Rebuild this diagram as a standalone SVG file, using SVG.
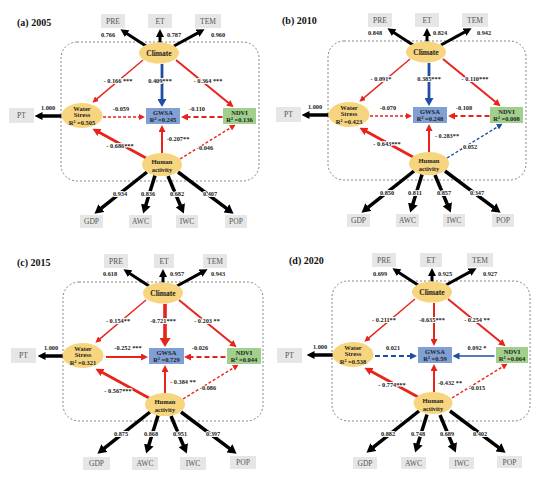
<svg xmlns="http://www.w3.org/2000/svg" width="554" height="482" viewBox="0 0 554 482">
<style>
text{font-family:"Liberation Serif","Times New Roman",serif;text-anchor:middle}
.ttl{font-size:10px;font-weight:bold;text-anchor:start;fill:#111}
.nt{font-size:7.5px;font-weight:bold;fill:#222}
.ns{font-size:6.5px;font-weight:bold;fill:#222}
.bt{font-size:7.5px;fill:#555}
.el{font-size:6.3px;font-weight:bold;fill:#222;stroke:#fff;stroke-width:2.2px;paint-order:stroke;stroke-linejoin:round}
.frame{fill:none;stroke:#666;stroke-width:0.8;stroke-dasharray:2 2}
.yel{fill:#f6d57e}
.gb{fill:#e6e6e6}
.gw{fill:#7f9fd5}
.nd{fill:#a1d08c}
line{fill:none}
.bk{stroke:#000;stroke-width:3}
.bw{stroke-width:3.5}
.r{stroke:#e8231c}
.u{stroke:#1f4ea5}
.w1{stroke-width:1.4}
.w2{stroke-width:2}
.w3{stroke-width:2.8}
.w4{stroke-width:3.6}
.d1{stroke-dasharray:3 2}
.d2{stroke-dasharray:5 3}
</style>
<defs>
<marker id="mb" markerUnits="userSpaceOnUse" viewBox="0 0 8 8" markerWidth="8" markerHeight="8" refX="0.5" refY="4" orient="auto"><path d="M0,0L8,4L0,8z" fill="#000"/></marker>
<marker id="mbL" markerUnits="userSpaceOnUse" viewBox="0 0 9 10" markerWidth="9" markerHeight="10" refX="0.5" refY="5" orient="auto"><path d="M0,0L9,5L0,10z" fill="#000"/></marker>
<marker id="mr6" markerUnits="userSpaceOnUse" viewBox="0 0 6 6" markerWidth="6" markerHeight="6" refX="0.5" refY="3" orient="auto"><path d="M0,0L6,3L0,6z" fill="#e8231c"/></marker>
<marker id="mr7" markerUnits="userSpaceOnUse" viewBox="0 0 7 7" markerWidth="7" markerHeight="7" refX="0.5" refY="3.5" orient="auto"><path d="M0,0L7,3.5L0,7z" fill="#e8231c"/></marker>
<marker id="mr8" markerUnits="userSpaceOnUse" viewBox="0 0 8 8" markerWidth="8" markerHeight="8" refX="0.5" refY="4" orient="auto"><path d="M0,0L8,4L0,8z" fill="#e8231c"/></marker>
<marker id="mr9" markerUnits="userSpaceOnUse" viewBox="0 0 9 11" markerWidth="9" markerHeight="11" refX="0.5" refY="5.5" orient="auto"><path d="M0,0L9,5.5L0,11z" fill="#e8231c"/></marker>
<marker id="mu6" markerUnits="userSpaceOnUse" viewBox="0 0 6 6" markerWidth="6" markerHeight="6" refX="0.5" refY="3" orient="auto"><path d="M0,0L6,3L0,6z" fill="#1f4ea5"/></marker>
<marker id="mu7" markerUnits="userSpaceOnUse" viewBox="0 0 7 7" markerWidth="7" markerHeight="7" refX="0.5" refY="3.5" orient="auto"><path d="M0,0L7,3.5L0,7z" fill="#1f4ea5"/></marker>
<marker id="mu8" markerUnits="userSpaceOnUse" viewBox="0 0 8 9" markerWidth="8" markerHeight="9" refX="0.5" refY="4.5" orient="auto"><path d="M0,0L8,4.5L0,9z" fill="#1f4ea5"/></marker>
</defs>
<rect width="554" height="482" fill="#fff"/>

<text class="ttl" x="17" y="26">(a) 2005</text>
<text class="ttl" x="282" y="24">(b) 2010</text>
<text class="ttl" x="17" y="266">(c) 2015</text>
<text class="ttl" x="289" y="264">(d) 2020</text>

<!-- Panel a -->
<g id="panel-a">
<rect class="frame" x="61" y="42" width="198" height="139" rx="16"/>
<g id="a-connectors">
<line class="bk" x1="146" y1="46" x2="126.7" y2="33.4" marker-end="url(#mb)"/>
<line class="bk" x1="160" y1="42.5" x2="160" y2="36.5" marker-end="url(#mb)"/>
<line class="bk" x1="174" y1="46" x2="198" y2="32.9" marker-end="url(#mb)"/>
<line class="bk bw" x1="61.5" y1="116" x2="42" y2="116" marker-end="url(#mb)"/>
<line class="bk bw" x1="147" y1="172" x2="101.1" y2="208.4" marker-end="url(#mbL)"/>
<line class="bk bw" x1="155" y1="175.5" x2="145.7" y2="205.4" marker-end="url(#mbL)"/>
<line class="bk bw" x1="168" y1="176" x2="180.5" y2="205.7" marker-end="url(#mbL)"/>
<line class="bk bw" x1="178" y1="172" x2="226.8" y2="208.6" marker-end="url(#mbL)"/>
<line class="r w1" x1="143" y1="60" x2="96.6" y2="99.1" marker-end="url(#mr6)"/>
<line class="u w3" x1="162" y1="64" x2="162" y2="99.5" marker-end="url(#mu8)"/>
<line class="r w2" x1="176" y1="60" x2="228.6" y2="103.1" marker-end="url(#mr7)"/>
<line class="r w1 d1" x1="103" y1="117" x2="139.5" y2="117" marker-end="url(#mr6)"/>
<line class="r w2 d2" x1="222.5" y1="117" x2="187.5" y2="117" marker-end="url(#mr7)"/>
<line class="r w3" x1="146" y1="158" x2="99" y2="132.3" marker-end="url(#mr8)"/>
<line class="r w2" x1="162" y1="153" x2="162" y2="131.5" marker-end="url(#mr7)"/>
<line class="r w1 d1" x1="180" y1="159" x2="230.9" y2="127.6" marker-end="url(#mr6)"/>
</g>
<g id="a-labels">
<text class="el" x="108" y="37">0.766</text><text class="el" x="174" y="37">0.787</text><text class="el" x="218" y="37">0.960</text>
<text class="el" x="118" y="82.5">- 0.166 ***</text><text class="el" x="160" y="82.5">0.409***</text><text class="el" x="208" y="82.5">- 0.364 ***</text>
<text class="el" x="121" y="110.5">-0.059</text><text class="el" x="197" y="110.5">-0.110</text>
<text class="el" x="48" y="110">1.000</text>
<text class="el" x="120" y="147.5">- 0.686***</text><text class="el" x="178" y="140.5">-0.207**</text><text class="el" x="205" y="149.5">-0.046</text>
<text class="el" x="120" y="196">0.934</text><text class="el" x="148" y="196">0.836</text><text class="el" x="177" y="196">0.682</text><text class="el" x="210" y="196">0.407</text>
</g>
<g id="a-pre"><rect class="gb" x="101" y="14" width="24" height="14"/><text class="bt" x="113" y="23.7">PRE</text></g>
<g id="a-et"><rect class="gb" x="148" y="14" width="24" height="14"/><text class="bt" x="160" y="23.7">ET</text></g>
<g id="a-tem"><rect class="gb" x="195" y="14" width="26" height="14"/><text class="bt" x="208" y="23.7">TEM</text></g>
<g id="a-climate"><ellipse class="yel" cx="159" cy="53" rx="20" ry="10.5"/><text class="nt" x="159" y="56">Climate</text></g>
<g id="a-pt"><rect class="gb" x="9" y="108" width="25" height="15"/><text class="bt" x="21.5" y="118.3">PT</text></g>
<g id="a-water"><ellipse class="yel" cx="82" cy="115.5" rx="20.5" ry="12.5"/><text class="ns" x="82" y="110.5">Water</text><text class="ns" x="82" y="117">Stress</text><text class="ns" x="82" y="124.5">R² =0.505</text></g>
<g id="a-gwsa"><rect class="gw" x="146" y="108" width="34" height="16"/><text class="ns" x="163" y="114.5">GWSA</text><text class="ns" x="163" y="121.7">R² =0.245</text></g>
<g id="a-ndvi"><rect class="nd" x="223" y="108" width="33" height="16"/><text class="ns" x="239.5" y="114.5">NDVI</text><text class="ns" x="239.5" y="121.7">R² =0.136</text></g>
<g id="a-human"><ellipse class="yel" cx="162" cy="164.5" rx="20" ry="11.5"/><text class="ns" x="162" y="164">Human</text><text class="ns" x="162" y="172">activity</text></g>
<g id="a-gdp"><rect class="gb" x="80" y="215" width="23" height="13"/><text class="bt" x="91.5" y="224.2">GDP</text></g>
<g id="a-awc"><rect class="gb" x="129" y="215" width="23" height="13"/><text class="bt" x="140.5" y="224.2">AWC</text></g>
<g id="a-iwc"><rect class="gb" x="176" y="215" width="22" height="13"/><text class="bt" x="187" y="224.2">IWC</text></g>
<g id="a-pop"><rect class="gb" x="225" y="215" width="22" height="13"/><text class="bt" x="236" y="224.2">POP</text></g>
</g>

<!-- Panel b -->
<g id="panel-b" transform="translate(267,-1)">
<rect class="frame" x="61" y="42" width="198" height="139" rx="16"/>
<g id="b-connectors">
<line class="bk" x1="146" y1="46" x2="126.7" y2="33.4" marker-end="url(#mb)"/>
<line class="bk" x1="160" y1="42.5" x2="160" y2="36.5" marker-end="url(#mb)"/>
<line class="bk" x1="174" y1="46" x2="198" y2="32.9" marker-end="url(#mb)"/>
<line class="bk bw" x1="61.5" y1="116" x2="42" y2="116" marker-end="url(#mb)"/>
<line class="bk bw" x1="147" y1="172" x2="101.1" y2="208.4" marker-end="url(#mbL)"/>
<line class="bk bw" x1="155" y1="175.5" x2="145.7" y2="205.4" marker-end="url(#mbL)"/>
<line class="bk bw" x1="168" y1="176" x2="180.5" y2="205.7" marker-end="url(#mbL)"/>
<line class="bk bw" x1="178" y1="172" x2="226.8" y2="208.6" marker-end="url(#mbL)"/>
<line class="r w1" x1="143" y1="60" x2="96.6" y2="99.1" marker-end="url(#mr6)"/>
<line class="u w3" x1="162" y1="64" x2="162" y2="99.5" marker-end="url(#mu8)"/>
<line class="r w2" x1="176" y1="60" x2="228.6" y2="103.1" marker-end="url(#mr7)"/>
<line class="r w1 d1" x1="103" y1="117" x2="139.5" y2="117" marker-end="url(#mr6)"/>
<line class="r w2 d2" x1="222.5" y1="117" x2="187.5" y2="117" marker-end="url(#mr7)"/>
<line class="r w3" x1="146" y1="158" x2="99" y2="132.3" marker-end="url(#mr8)"/>
<line class="r w2" x1="162" y1="153" x2="162" y2="131.5" marker-end="url(#mr7)"/>
<line class="u w1 d1" x1="180" y1="159" x2="230.9" y2="127.6" marker-end="url(#mu6)"/>
</g>
<g id="b-labels">
<text class="el" x="108" y="36">0.848</text><text class="el" x="173" y="36">0.824</text><text class="el" x="217" y="36">0.942</text>
<text class="el" x="114" y="82">- 0.091*</text><text class="el" x="162" y="82">0.385***</text><text class="el" x="208" y="82">- 0.110***</text>
<text class="el" x="121" y="110.5">-0.070</text><text class="el" x="197" y="110.5">-0.108</text>
<text class="el" x="48" y="110">1.000</text>
<text class="el" x="120" y="146.5">- 0.643***</text><text class="el" x="180" y="139">- 0.283**</text><text class="el" x="203" y="149.5">0.052</text>
<text class="el" x="120" y="196">0.850</text><text class="el" x="148" y="196">0.811</text><text class="el" x="177" y="196">0.857</text><text class="el" x="210" y="196">0.347</text>
</g>
<g id="b-pre"><rect class="gb" x="101" y="14" width="24" height="14"/><text class="bt" x="113" y="23.7">PRE</text></g>
<g id="b-et"><rect class="gb" x="148" y="14" width="24" height="14"/><text class="bt" x="160" y="23.7">ET</text></g>
<g id="b-tem"><rect class="gb" x="195" y="14" width="26" height="14"/><text class="bt" x="208" y="23.7">TEM</text></g>
<g id="b-climate"><ellipse class="yel" cx="159" cy="53" rx="20" ry="10.5"/><text class="nt" x="159" y="56">Climate</text></g>
<g id="b-pt"><rect class="gb" x="9" y="108" width="25" height="15"/><text class="bt" x="21.5" y="118.3">PT</text></g>
<g id="b-water"><ellipse class="yel" cx="82" cy="115.5" rx="20.5" ry="12.5"/><text class="ns" x="82" y="110.5">Water</text><text class="ns" x="82" y="117">Stress</text><text class="ns" x="82" y="124.5">R² =0.423</text></g>
<g id="b-gwsa"><rect class="gw" x="146" y="108" width="34" height="16"/><text class="ns" x="163" y="114.5">GWSA</text><text class="ns" x="163" y="121.7">R² =0.248</text></g>
<g id="b-ndvi"><rect class="nd" x="223" y="108" width="33" height="16"/><text class="ns" x="239.5" y="114.5">NDVI</text><text class="ns" x="239.5" y="121.7">R² =0.008</text></g>
<g id="b-human"><ellipse class="yel" cx="162" cy="164.5" rx="20" ry="11.5"/><text class="ns" x="162" y="164">Human</text><text class="ns" x="162" y="172">activity</text></g>
<g id="b-gdp"><rect class="gb" x="80" y="215" width="23" height="13"/><text class="bt" x="91.5" y="224.2">GDP</text></g>
<g id="b-awc"><rect class="gb" x="129" y="215" width="23" height="13"/><text class="bt" x="140.5" y="224.2">AWC</text></g>
<g id="b-iwc"><rect class="gb" x="176" y="215" width="22" height="13"/><text class="bt" x="187" y="224.2">IWC</text></g>
<g id="b-pop"><rect class="gb" x="225" y="215" width="22" height="13"/><text class="bt" x="236" y="224.2">POP</text></g>
</g>

<!-- Panel c -->
<g id="panel-c" transform="translate(3,240)">
<rect class="frame" x="60" y="42" width="200" height="139" rx="16"/>
<g id="c-connectors">
<line class="bk" x1="146" y1="46" x2="126.7" y2="33.4" marker-end="url(#mb)"/>
<line class="bk" x1="160" y1="42.5" x2="160" y2="36.5" marker-end="url(#mb)"/>
<line class="bk" x1="174" y1="46" x2="198" y2="32.9" marker-end="url(#mb)"/>
<line class="bk bw" x1="61.5" y1="116" x2="42" y2="116" marker-end="url(#mb)"/>
<line class="bk bw" x1="147" y1="172" x2="101.1" y2="208.4" marker-end="url(#mbL)"/>
<line class="bk bw" x1="155" y1="175.5" x2="145.7" y2="205.4" marker-end="url(#mbL)"/>
<line class="bk bw" x1="168" y1="176" x2="180.5" y2="205.7" marker-end="url(#mbL)"/>
<line class="bk bw" x1="178" y1="172" x2="226.8" y2="208.6" marker-end="url(#mbL)"/>
<line class="r w1" x1="143" y1="60" x2="96.6" y2="99.1" marker-end="url(#mr6)"/>
<line class="r w4" x1="162" y1="64" x2="162" y2="98.5" marker-end="url(#mr9)"/>
<line class="r w2" x1="176" y1="60" x2="228.6" y2="103.1" marker-end="url(#mr7)"/>
<line class="r w2" x1="103" y1="117" x2="138.5" y2="117" marker-end="url(#mr7)"/>
<line class="r w2 d2" x1="222.5" y1="117" x2="187.5" y2="117" marker-end="url(#mr7)"/>
<line class="r w3" x1="146" y1="158" x2="99" y2="132.3" marker-end="url(#mr8)"/>
<line class="r w2" x1="162" y1="153" x2="162" y2="131.5" marker-end="url(#mr7)"/>
<line class="r w1 d1" x1="180" y1="159" x2="230.9" y2="127.6" marker-end="url(#mr6)"/>
</g>
<g id="c-labels">
<text class="el" x="107" y="36">0.618</text><text class="el" x="174" y="36">0.957</text><text class="el" x="215" y="36">0.943</text>
<text class="el" x="115" y="82.5">- 0.154**</text><text class="el" x="160" y="82.5">-0.721***</text><text class="el" x="204" y="82.5">- 0.203 **</text>
<text class="el" x="125" y="110">-0.252 ***</text><text class="el" x="197" y="110">-0.026</text>
<text class="el" x="48" y="110">1.000</text>
<text class="el" x="115" y="153">- 0.567***</text><text class="el" x="180" y="144">- 0.384 **</text><text class="el" x="205" y="150">-0.086</text>
<text class="el" x="118" y="196">0.875</text><text class="el" x="148" y="196">0.868</text><text class="el" x="177" y="196">0.951</text><text class="el" x="210" y="196">0.397</text>
</g>
<g id="c-pre"><rect class="gb" x="101" y="14" width="24" height="14"/><text class="bt" x="113" y="23.7">PRE</text></g>
<g id="c-et"><rect class="gb" x="151" y="14" width="20" height="14"/><text class="bt" x="161" y="23.7">ET</text></g>
<g id="c-tem"><rect class="gb" x="200" y="14" width="24" height="14"/><text class="bt" x="212" y="23.7">TEM</text></g>
<g id="c-climate"><ellipse class="yel" cx="160" cy="53" rx="20" ry="10.5"/><text class="nt" x="160" y="56">Climate</text></g>
<g id="c-pt"><rect class="gb" x="8" y="108" width="25" height="15"/><text class="bt" x="20.5" y="118.3">PT</text></g>
<g id="c-water"><ellipse class="yel" cx="80" cy="115.5" rx="20.5" ry="12.5"/><text class="ns" x="80" y="110.5">Water</text><text class="ns" x="80" y="117">Stress</text><text class="ns" x="80" y="124.5">R² =0.321</text></g>
<g id="c-gwsa"><rect class="gw" x="146" y="108" width="35" height="16"/><text class="ns" x="163.5" y="114.5">GWSA</text><text class="ns" x="163.5" y="121.7">R² =0.729</text></g>
<g id="c-ndvi"><rect class="nd" x="224" y="108" width="34" height="16"/><text class="ns" x="241" y="114.5">NDVI</text><text class="ns" x="241" y="121.7">R² =0.044</text></g>
<g id="c-human"><ellipse class="yel" cx="162" cy="164.5" rx="20" ry="11.5"/><text class="ns" x="162" y="164">Human</text><text class="ns" x="162" y="172">activity</text></g>
<g id="c-gdp"><rect class="gb" x="80" y="217" width="27" height="13"/><text class="bt" x="93.5" y="226.2">GDP</text></g>
<g id="c-awc"><rect class="gb" x="129" y="217" width="26" height="13"/><text class="bt" x="142" y="226.2">AWC</text></g>
<g id="c-iwc"><rect class="gb" x="177" y="217" width="26" height="13"/><text class="bt" x="190" y="226.2">IWC</text></g>
<g id="c-pop"><rect class="gb" x="227" y="216" width="26" height="13"/><text class="bt" x="240" y="225.2">POP</text></g>
</g>

<!-- Panel d -->
<g id="panel-d" transform="translate(272,239)">
<rect class="frame" x="60" y="42" width="198" height="140" rx="16"/>
<g id="d-connectors">
<line class="bk" x1="146" y1="46" x2="126.7" y2="33.4" marker-end="url(#mb)"/>
<line class="bk" x1="160" y1="42.5" x2="160" y2="36.5" marker-end="url(#mb)"/>
<line class="bk" x1="174" y1="46" x2="198" y2="32.9" marker-end="url(#mb)"/>
<line class="bk bw" x1="61.5" y1="116" x2="42" y2="116" marker-end="url(#mb)"/>
<line class="bk bw" x1="147" y1="172" x2="101.1" y2="208.4" marker-end="url(#mbL)"/>
<line class="bk bw" x1="155" y1="175.5" x2="145.7" y2="205.4" marker-end="url(#mbL)"/>
<line class="bk bw" x1="168" y1="176" x2="180.5" y2="205.7" marker-end="url(#mbL)"/>
<line class="bk bw" x1="178" y1="172" x2="226.8" y2="208.6" marker-end="url(#mbL)"/>
<line class="r w1" x1="143" y1="60" x2="96.6" y2="99.1" marker-end="url(#mr6)"/>
<line class="r w2" x1="162" y1="64" x2="162" y2="100.5" marker-end="url(#mr7)"/>
<line class="r w2" x1="176" y1="60" x2="228.6" y2="103.1" marker-end="url(#mr7)"/>
<line class="u w2 d2" x1="103" y1="117" x2="138.5" y2="117" marker-end="url(#mu7)"/>
<line class="u w1" x1="222.5" y1="117" x2="187" y2="117" marker-end="url(#mu7)"/>
<line class="r w3" x1="146" y1="158" x2="99" y2="132.3" marker-end="url(#mr8)"/>
<line class="r w2" x1="162" y1="153" x2="162" y2="131.5" marker-end="url(#mr7)"/>
<line class="r w1 d1" x1="180" y1="159" x2="230.9" y2="127.6" marker-end="url(#mr6)"/>
</g>
<g id="d-labels">
<text class="el" x="108" y="37">0.699</text><text class="el" x="173" y="37">0.925</text><text class="el" x="218" y="37">0.927</text>
<text class="el" x="112" y="83">- 0.211**</text><text class="el" x="160" y="83">-0.635***</text><text class="el" x="205" y="83">- 0.254 **</text>
<text class="el" x="121" y="111">0.021</text><text class="el" x="205" y="111">0.092 *</text>
<text class="el" x="48" y="110">1.000</text>
<text class="el" x="120" y="148">- 0.774***</text><text class="el" x="178" y="146">-0.432 **</text><text class="el" x="205" y="151">-0.015</text>
<text class="el" x="116" y="197">0.882</text><text class="el" x="146" y="197">0.748</text><text class="el" x="175" y="197">0.689</text><text class="el" x="208" y="197">0.402</text>
</g>
<g id="d-pre"><rect class="gb" x="100" y="14" width="24" height="14"/><text class="bt" x="112" y="23.7">PRE</text></g>
<g id="d-et"><rect class="gb" x="148" y="14" width="22" height="14"/><text class="bt" x="159" y="23.7">ET</text></g>
<g id="d-tem"><rect class="gb" x="195" y="14" width="26" height="14"/><text class="bt" x="208" y="23.7">TEM</text></g>
<g id="d-climate"><ellipse class="yel" cx="160" cy="53" rx="20" ry="10.5"/><text class="nt" x="160" y="56">Climate</text></g>
<g id="d-pt"><rect class="gb" x="5" y="109" width="25" height="15"/><text class="bt" x="17.5" y="119.3">PT</text></g>
<g id="d-water"><ellipse class="yel" cx="81" cy="115.5" rx="20.5" ry="12.5"/><text class="ns" x="81" y="110.5">Water</text><text class="ns" x="81" y="117">Stress</text><text class="ns" x="81" y="124.5">R² =0.538</text></g>
<g id="d-gwsa"><rect class="gw" x="146" y="108" width="34" height="16"/><text class="ns" x="163" y="114.5">GWSA</text><text class="ns" x="163" y="121.7">R² =0.59</text></g>
<g id="d-ndvi"><rect class="nd" x="224" y="108" width="32" height="16"/><text class="ns" x="240" y="114.5">NDVI</text><text class="ns" x="240" y="121.7">R² =0.064</text></g>
<g id="d-human"><ellipse class="yel" cx="161" cy="164" rx="19.5" ry="11"/><text class="ns" x="161" y="163.5">Human</text><text class="ns" x="161" y="171.5">activity</text></g>
<g id="d-gdp"><rect class="gb" x="81" y="218" width="24" height="12"/><text class="bt" x="93" y="226.7">GDP</text></g>
<g id="d-awc"><rect class="gb" x="129" y="218" width="25" height="12"/><text class="bt" x="141.5" y="226.7">AWC</text></g>
<g id="d-iwc"><rect class="gb" x="177" y="218" width="25" height="12"/><text class="bt" x="189.5" y="226.7">IWC</text></g>
<g id="d-pop"><rect class="gb" x="225" y="217" width="25" height="12"/><text class="bt" x="237.5" y="225.7">POP</text></g>
</g>
</svg>
